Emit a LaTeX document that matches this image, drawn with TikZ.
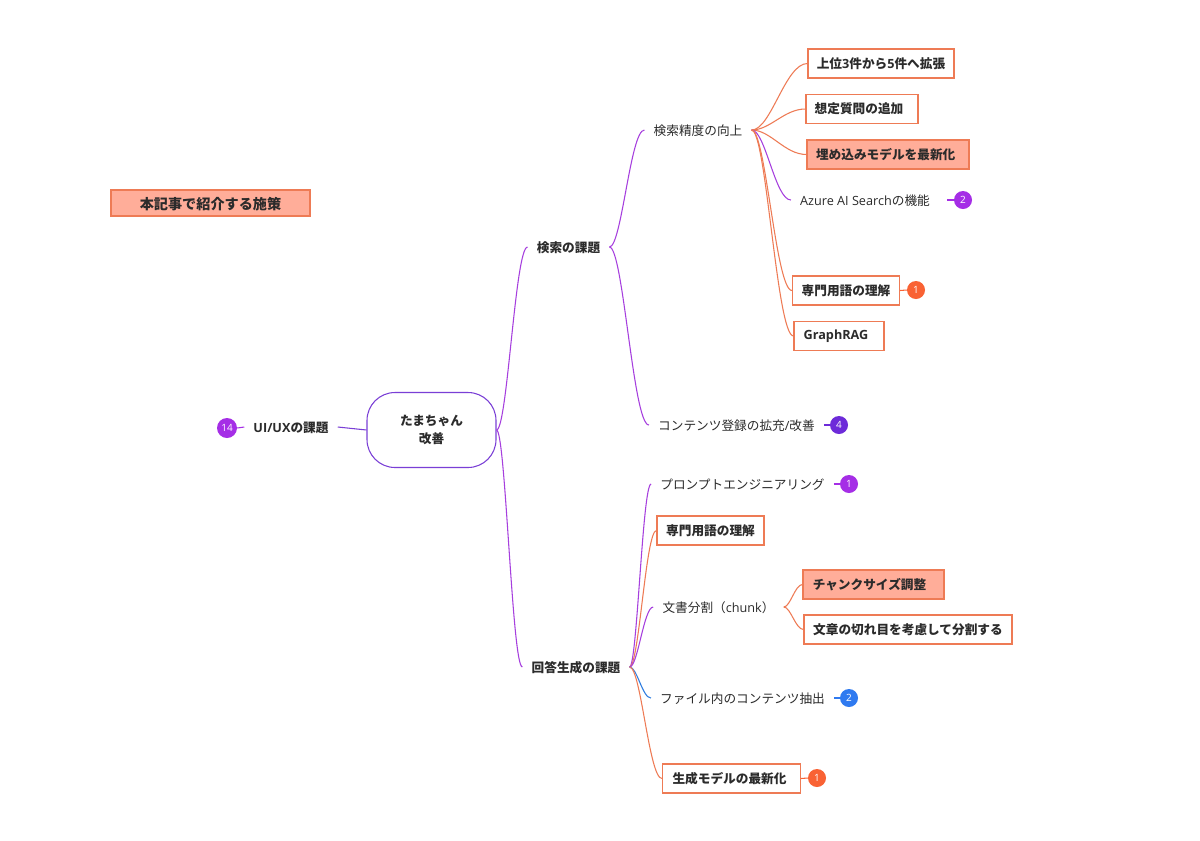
\documentclass[tikz,border=0pt]{standalone}
\usepackage{fontspec}
\setmainfont{Noto Sans CJK JP}
\newfontfamily\latn{Open Sans}
\newcommand{\lat}[1]{{\latn #1}}
\usetikzlibrary{calc}
\definecolor{inkdark}{HTML}{2B2B2B}
\definecolor{linepurple}{HTML}{A63FDE}
\definecolor{lineviolet}{HTML}{7A3FD6}
\definecolor{lineorange}{HTML}{EE7B55}
\definecolor{lineblue}{HTML}{2F7DE0}
\definecolor{boxfill}{HTML}{FFAD99}
\definecolor{bubpurple}{HTML}{A52EE6}
\definecolor{bubviolet}{HTML}{6D2BD9}
\definecolor{bubblue}{HTML}{2F7AF0}
\definecolor{buborange}{HTML}{F96234}
\tikzset{topic/.style={inner xsep=6.75pt,inner ysep=2pt,text height=9.1pt,text depth=1.4pt,font=\fontsize{9.5}{12}\selectfont\bfseries,text=inkdark}}
\tikzset{leaf/.style={inner xsep=6.75pt,inner ysep=2pt,text height=9.1pt,text depth=1.4pt,font=\fontsize{9.5}{12}\selectfont,text=inkdark}}
\tikzset{tagbox/.style={draw=lineorange,line width=0.8pt,minimum height=21.75pt,inner xsep=0pt,inner ysep=0pt,font=\fontsize{9.5}{12}\selectfont\bfseries,text=inkdark}}
\tikzset{hotbox/.style={tagbox,fill=boxfill}}
\tikzset{rootbox/.style={draw=lineviolet,line width=0.8pt,rounded corners=21pt,minimum width=96.75pt,minimum height=56.25pt,align=center,font=\fontsize{9.5}{14}\selectfont\bfseries,text=inkdark}}
\tikzset{bubble/.style={circle,minimum size=13.5pt,inner sep=0pt,text=white,font=\fontsize{7.5}{9}\selectfont\latn}}
\tikzset{link/.style={line width=0.8pt}}
\newcommand{\branch}[3]{\draw[link,#1] (#2.east) .. controls ($(#2.east)!0.35!(#3.west |- #2.east)$) and ($(#3.west)!0.4!(#2.east |- #3.west)$) .. (#3.west);}
\begin{document}
\begin{tikzpicture}[x=0.75pt,y=-0.75pt]

	%% Page
	\path[use as bounding box,fill=white] (0,0) rectangle (1200,840);
	%%

	\node[hotbox,minimum width=149.25pt,minimum height=19.5pt,text height=10.8pt,text depth=1.3pt,font=\fontsize{10.6}{12}\selectfont\bfseries] (legend) at (210.5,203) {本記事で紹介する施策};

	%% Root and left side
	\node[rootbox] (root) at (431.5,430) {たまちゃん\\改善};
	\node[topic] (uiux) at (291,427) {\lat{UI/UX}の課題};
	\node[bubble,fill=bubpurple,minimum size=15pt] (uiuxn) at (227,428) {14};

	%% Search branch
	\node[topic] (search) at (568.5,247) {検索の課題};
	\node[leaf] (accuracy) at (698,130) {検索精度の向上};
	\node[tagbox,minimum width=109.5pt] (top5) at (881,63.5) {上位\lat{3}件から\lat{5}件へ拡張};
	\node[tagbox,minimum width=84pt] (question) at (862,109) {\hspace{-4.5pt}想定質問の追加};
	\node[hotbox,minimum width=121.5pt] (embed) at (888,154.5) {\hspace{-3.5pt}埋め込みモデルを最新化};
	\node[leaf] (azure) at (865,200) {\lat{Azure AI Search}の機能};
	\node[bubble,fill=bubpurple] (azuren) at (963,200) {2};
	\node[tagbox,minimum width=80.25pt] (terms) at (846,290.5) {専門用語の理解};
	\node[bubble,fill=buborange] (termsn) at (916,290) {1};
	\node[tagbox,minimum width=67.5pt] (graph) at (839,336) {\hspace{-4.5pt}\lat{GraphRAG}};
	\node[leaf] (content) at (736.5,425) {コンテンツ登録の拡充\lat{/}改善};
	\node[bubble,fill=bubviolet] (contentn) at (839,425) {4};

	%% Answer branch
	\node[topic] (answer) at (576,667) {回答生成の課題};
	\node[leaf] (prompt) at (742.5,484) {プロンプトエンジニアリング};
	\node[bubble,fill=bubpurple] (promptn) at (849,484) {1};
	\node[tagbox,minimum width=80.25pt] (terms2) at (710.5,530.5) {専門用語の理解};
	\node[leaf] (split) at (718.5,607) {文書分割（\lat{chunk}）};
	\node[hotbox,minimum width=105.75pt] (chunk) at (873.5,584.5) {\hspace{-6pt}チャンクサイズ調整};
	\node[tagbox,minimum width=156pt] (cut) at (908,629.5) {文章の切れ目を考慮して分割する};
	\node[leaf] (extract) at (742.5,698) {ファイル内のコンテンツ抽出};
	\node[bubble,fill=bubblue] (extractn) at (849,698) {2};
	\node[tagbox,minimum width=103.5pt] (model) at (731.5,778.5) {\hspace{-3pt}生成モデルの最新化};
	\node[bubble,fill=buborange] (modeln) at (817,778) {1};

	%% Connectors
	\draw[link,lineviolet] (uiux.east) -- (root.west);
	\draw[link,bubpurple] (uiuxn.east) -- (uiux.west);
	\branch{linepurple}{root}{search}
	\branch{linepurple}{root}{answer}
	\branch{linepurple}{search}{accuracy}
	\branch{linepurple}{search}{content}
	\branch{lineorange}{accuracy}{top5}
	\branch{lineorange}{accuracy}{question}
	\branch{lineorange}{accuracy}{embed}
	\branch{linepurple}{accuracy}{azure}
	\branch{lineorange}{accuracy}{terms}
	\branch{lineorange}{accuracy}{graph}
	\branch{linepurple}{answer}{prompt}
	\branch{lineorange}{answer}{terms2}
	\branch{linepurple}{answer}{split}
	\branch{lineblue}{answer}{extract}
	\branch{lineorange}{answer}{model}
	\branch{lineorange}{split}{chunk}
	\branch{lineorange}{split}{cut}
	\draw[link,bubpurple,shorten <=6pt] (azure.east) -- (azuren.west);
	\draw[link,buborange] (terms.east) -- (termsn.west);
	\draw[link,bubviolet] (content.east) -- (contentn.west);
	\draw[link,bubpurple] (prompt.east) -- (promptn.west);
	\draw[link,bubblue] (extract.east) -- (extractn.west);
	\draw[link,buborange] (model.east) -- (modeln.west);

\end{tikzpicture}
\end{document}
